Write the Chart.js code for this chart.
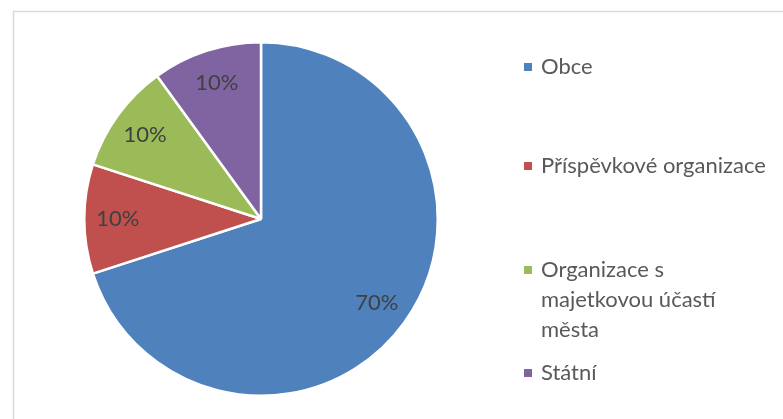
<!DOCTYPE html>
<html>
<head>
<meta charset="utf-8">
<script src="https://cdn.jsdelivr.net/npm/chart.js@4.4.0/dist/chart.umd.min.js"></script>
<style>
  html, body { margin: 0; padding: 0; background: #fff; }
  #wrap { position: relative; width: 783px; height: 419px; }
</style>
</head>
<body>
<div id="wrap"><canvas id="myChart" width="783" height="419"></canvas></div>
<script>
const categories = ['Obce', 'Příspěvkové organizace', 'Organizace s majetkovou účastí města', 'Státní']
const shares = [70, 10, 10, 10]
const colors = ['#4f81bd', '#c0504d', '#9bbb59', '#8064a2']

const FONT = '22px Lato'

// gray frame like the office chart box
const framePlugin = {
    id: 'frame',
    beforeDraw(chart) {
        const ctx = chart.ctx
        ctx.save()
        ctx.strokeStyle = '#d9d9d9'
        ctx.lineWidth = 1.5
        ctx.beginPath()
        ctx.moveTo(13.5, 419)
        ctx.lineTo(13.5, 11.5)
        ctx.lineTo(783, 11.5)
        ctx.stroke()
        ctx.restore()
    }
}

// percentage labels inside slices
const labelPlugin = {
    id: 'sliceLabels',
    afterDatasetsDraw(chart) {
        const ctx = chart.ctx
        const meta = chart.getDatasetMeta(0)
        const total = shares.reduce((a, b) => a + b, 0)
        ctx.save()
        ctx.font = FONT
        ctx.fillStyle = '#404040'
        ctx.textAlign = 'center'
        ctx.textBaseline = 'middle'
        meta.data.forEach((arc, i) => {
            const p = arc.getProps(['x', 'y', 'startAngle', 'endAngle', 'outerRadius'], true)
            const mid = (p.startAngle + p.endAngle) / 2
            const d = p.outerRadius * 0.81
            const pct = Math.round(shares[i] / total * 100) + '%'
            ctx.fillText(pct, p.x + Math.cos(mid) * d, p.y + Math.sin(mid) * d)
        })
        ctx.restore()
    }
}

// legend on the right with wrapped text
const legendPlugin = {
    id: 'sideLegend',
    afterDraw(chart) {
        const ctx = chart.ctx
        const tops = [67, 166, 270, 373]
        const lineH = 30
        const maxW = 232
        ctx.save()
        ctx.font = FONT
        ctx.textBaseline = 'middle'
        categories.forEach((name, i) => {
            const words = name.split(' ')
            const lines = []
            let cur = ''
            words.forEach(w => {
                const test = cur ? cur + ' ' + w : w
                if (cur && ctx.measureText(test).width > maxW) {
                    lines.push(cur)
                    cur = w
                } else {
                    cur = test
                }
            })
            lines.push(cur)
            ctx.fillStyle = colors[i]
            ctx.fillRect(524, tops[i] - 4, 8, 8)
            ctx.fillStyle = '#595959'
            lines.forEach((ln, j) => {
                ctx.fillText(ln, 541, tops[i] + j * lineH)
            })
        })
        ctx.restore()
    }
}

const ctx = document.getElementById('myChart').getContext('2d')
const myChart = new Chart(ctx, {
    type: 'pie',
    data: {
        labels: categories,
        datasets: [{
            data: shares,
            backgroundColor: colors,
            borderColor: '#ffffff',
            borderWidth: 2.5,
            hoverOffset: 0
        }]
    },
    options: {
        responsive: false,
        animation: false,
        layout: {
            padding: { left: 83, right: 344, top: 41, bottom: 22 }
        },
        plugins: {
            legend: { display: false },
            tooltip: { enabled: false }
        }
    },
    plugins: [framePlugin, labelPlugin, legendPlugin]
})
</script>
</body>
</html>
